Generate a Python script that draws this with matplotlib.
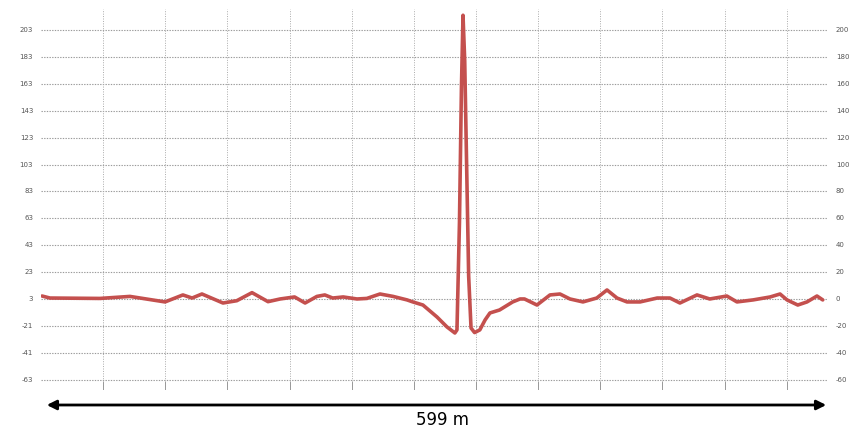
import matplotlib
matplotlib.use("Agg")
import matplotlib.pyplot as plt
import numpy as np

# trace of the profile: distance (m) and value
dist = [0.8, 6.8, 44.9, 67.7, 94.4, 108, 115, 122.5, 138.5, 149, 160.6, 172.8,
        182, 193, 201, 210, 216, 222, 230, 240.5, 248, 258, 268, 278.6, 283,
        290.7, 301.4, 309, 315, 316.6, 318.5, 320, 321.2, 322.5, 324, 325.5,
        327.3, 330, 334, 338, 341.7, 349, 359, 364.6, 368, 377.5, 387.4, 395,
        402.6, 412.5, 423, 430.8, 438.4, 446, 456, 469, 478.7, 486.3, 499.3,
        509, 522, 529.7, 542, 555, 562.5, 567.8, 576, 583, 590.6, 595]
vals = [5.2, 3.7, 3.4, 4.9, 0.8, 6.0, 3.7, 6.7, 0.0, 1.7, 7.7, 1.0,
        3.0, 4.5, 0.0, 4.9, 6.0, 3.7, 4.5, 3.0, 3.4, 6.7, 4.9, 2.3, 0.8,
        -1.5, -10.4, -17.8, -22.3, -20, 60, 160, 214, 180, 100, 20,
        -18.6, -22, -20, -12.6, -7.4, -5.2, 0.8, 3.0, 3.0, -1.5, 6.0, 6.7,
        3.0, 0.8, 3.7, 9.7, 3.7, 0.8, 0.8, 3.7, 3.7, 0.0, 6.0,
        3.0, 5.2, 0.8, 2.3, 4.5, 6.7, 2.3, -1.5, 0.8, 5.2, 2.3]

grid_vals = [203, 183, 163, 143, 123, 103, 83, 63, 43, 23, 3, -17, -37, -57]
left_labels = ["203", "183", "163", "143", "123", "103", "83", "63", "43", "23",
               "3", "-21", "-41", "-63"]
right_labels = ["200", "180", "160", "140", "120", "100", "80", "60", "40", "20",
                "0", "-20", "-40", "-60"]
grid_step = 47.3
total_len = 599

fig = plt.figure(figsize=(8.52, 4.28), dpi=100)
ax = fig.add_axes([41 / 852, 38 / 428, 787 / 852, 382 / 428])
ax.set_xlim(0, total_len)
ax.set_ylim(-64.7, 219.4)
for s in ax.spines.values():
    s.set_visible(False)
ax.set_xticks([])
ax.set_yticks([])

for g in grid_vals:
    ax.axhline(g, color="#9a9a9a", lw=0.8, ls=(0, (1.2, 1.2)), zorder=1)
xs = [grid_step * k for k in range(1, 13)]
for x in xs:
    ax.plot([x, x], [-62, 219], color="#aaaaaa", lw=0.7, ls=(0, (1.0, 1.5)), zorder=1)
    ax.plot([x, x], [-64.7, -59], color="#999999", lw=0.7, zorder=1)

ax.plot(dist, vals, color="#c4504e", lw=2.6, zorder=3,
        solid_joinstyle="round", solid_capstyle="round")

for g, l, r in zip(grid_vals, left_labels, right_labels):
    ax.text(-6, g, l, ha="right", va="center", fontsize=5, color="#555555")
    ax.text(total_len + 6, g, r, ha="left", va="center", fontsize=5, color="#555555")

# distance arrow
fig.patches.append(matplotlib.patches.FancyArrowPatch(
    (44 / 852, 23 / 428), (829 / 852, 23 / 428), transform=fig.transFigure,
    arrowstyle="<|-|>", mutation_scale=14, color="black", lw=2))
fig.text(442 / 852, 8 / 428, f"{total_len} m", ha="center", va="center",
         fontsize=12, family=["Liberation Sans Narrow", "DejaVu Sans"])

fig.savefig("out.png", dpi=100)
